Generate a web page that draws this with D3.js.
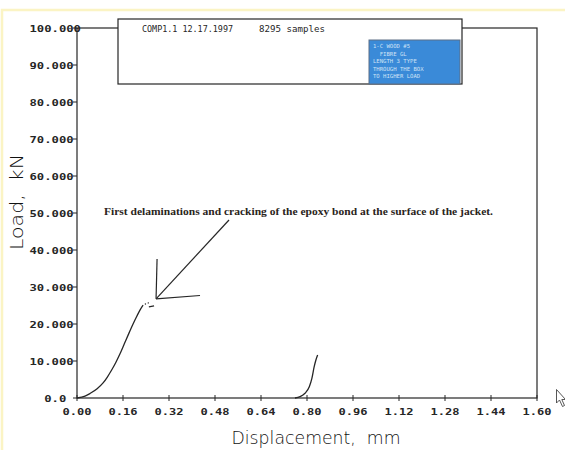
<!DOCTYPE html>
<html>
<head>
<meta charset="utf-8">
<script src="https://cdn.jsdelivr.net/npm/d3@7"></script>
<style>
  html, body { margin: 0; padding: 0; background: #fff; }
  svg { display: block; }
  text { white-space: pre; }
</style>
</head>
<body>
<svg id="chart" width="565" height="450"></svg>
<script>
// Load–displacement record, test COMP1.1
const xTicks = [0, 0.16, 0.32, 0.48, 0.64, 0.80, 0.96, 1.12, 1.28, 1.44, 1.60];
const xTickLabels = ["0.00", "0.16", "0.32", "0.48", "0.64", "0.80", "0.96", "1.12", "1.28", "1.44", "1.60"];
const yTicks = [0, 10, 20, 30, 40, 50, 60, 70, 80, 90, 100];
const yTickLabels = ["  0.0", "10.000", "20.000", "30.000", "40.000", "50.000", "60.000", "70.000", "80.000", "90.000", "100.000"];

// first loading branch: displacement (mm), load (kN)
const loadDisp1 = [0, 0.028, 0.045, 0.07, 0.09, 0.105, 0.12, 0.135, 0.15, 0.165, 0.18, 0.195, 0.208, 0.220, 0.230];
const loadVal1  = [0, 0.5, 1.2, 2.5, 4.0, 5.6, 7.5, 9.6, 12.0, 14.7, 17.4, 20.0, 22.1, 23.9, 25.1];
// scattered samples after the first cracking
const scatterDisp = [0.238, 0.248];
const scatterVal  = [25.4, 25.7];
const fragDisp = [0.250, 0.268];
const fragVal  = [24.6, 24.9];
// second branch after unloading
const loadDisp2 = [0.758, 0.776, 0.793, 0.808, 0.817, 0.825, 0.831, 0.837];
const loadVal2  = [0, 0.35, 1.27, 3.05, 5.32, 8.46, 10.27, 11.6];

const headerText = "COMP1.1 12.17.1997";
const samplesText = "8295 samples";
const legendLines = ["1-C WOOD #5", "  FIBRE GL", "LENGTH 3 TYPE", "THROUGH THE BOX", "TO HIGHER LOAD"];
const noteText = "First delaminations and cracking of the epoxy bond at the surface of the jacket.";

const ink = "#262626";
const svg = d3.select("#chart");

// faint yellow edge of the sheet
svg.append("path")
  .attr("d", "M2,450 L2,10 L565,10")
  .attr("fill", "none").attr("stroke", "#fbf4c4").attr("stroke-width", 2.5);

const x = d3.scaleLinear().domain([0, 1.6]).range([77, 537]);
const y = d3.scaleLinear().domain([0, 100]).range([398, 28]);

// plot frame
svg.append("rect")
  .attr("x", x(0)).attr("y", y(100))
  .attr("width", x(1.6) - x(0)).attr("height", y(0) - y(100))
  .attr("fill", "none").attr("stroke", ink).attr("stroke-width", 1.2);

const monoFont = "'DejaVu Sans Mono', monospace";

// x axis ticks and labels
const xg = svg.append("g");
xg.selectAll("line").data(xTicks).join("line")
  .attr("x1", d => x(d)).attr("x2", d => x(d))
  .attr("y1", y(0) - 3).attr("y2", y(0) + 3)
  .attr("stroke", ink).attr("stroke-width", 1);
xg.selectAll("text").data(xTicks).join("text")
  .attr("x", d => x(d)).attr("y", 415)
  .attr("text-anchor", "middle")
  .attr("font-family", monoFont).attr("font-weight", "bold").attr("font-size", 9.5)
  .attr("fill", ink)
  .attr("textLength", 29).attr("lengthAdjust", "spacingAndGlyphs")
  .text((d, i) => xTickLabels[i]);

// y axis ticks and labels
const yg = svg.append("g");
yg.selectAll("line").data(yTicks).join("line")
  .attr("x1", x(0) - 4).attr("x2", x(0))
  .attr("y1", d => y(d)).attr("y2", d => y(d))
  .attr("stroke", ink).attr("stroke-width", 1);
yg.selectAll("text").data(yTicks).join("text")
  .attr("x", 29.5).attr("y", d => y(d) + 3.5)
  .attr("font-family", monoFont).attr("font-weight", "bold").attr("font-size", 9.5)
  .attr("fill", ink)
  .attr("textLength", (d, i) => yTickLabels[i].length * 7.35)
  .attr("lengthAdjust", "spacingAndGlyphs")
  .text((d, i) => yTickLabels[i]);

// axis titles
svg.append("text")
  .attr("x", 316).attr("y", 444)
  .attr("text-anchor", "middle")
  .attr("font-family", "'DejaVu Sans', sans-serif").attr("font-weight", 300).attr("font-size", 17)
  .attr("fill", "#111")
  .attr("textLength", 169).attr("lengthAdjust", "spacingAndGlyphs")
  .text("Displacement,  mm");
svg.append("text")
  .attr("transform", "translate(23,202) rotate(-90)")
  .attr("text-anchor", "middle")
  .attr("font-family", "'DejaVu Sans', sans-serif").attr("font-weight", 300).attr("font-size", 17)
  .attr("fill", "#111")
  .attr("textLength", 96).attr("lengthAdjust", "spacingAndGlyphs")
  .text("Load,  kN");

// header box
svg.append("rect")
  .attr("x", 118).attr("y", 19).attr("width", 344).attr("height", 65)
  .attr("fill", "#fff").attr("stroke", ink).attr("stroke-width", 1.2);
svg.append("text")
  .attr("x", 142).attr("y", 32)
  .attr("font-family", monoFont).attr("font-size", 8.3).attr("fill", ink)
  .attr("textLength", 91).attr("lengthAdjust", "spacingAndGlyphs")
  .text(headerText);
svg.append("text")
  .attr("x", 259).attr("y", 32)
  .attr("font-family", monoFont).attr("font-size", 8.3).attr("fill", ink)
  .attr("textLength", 66).attr("lengthAdjust", "spacingAndGlyphs")
  .text(samplesText);

// blue channel legend
svg.append("rect")
  .attr("x", 369).attr("y", 40).attr("width", 91).attr("height", 44)
  .attr("fill", "#3a8ad8").attr("stroke", "#5c6f86").attr("stroke-width", 1);
svg.append("g").selectAll("text").data(legendLines).join("text")
  .attr("x", 373).attr("y", (d, i) => 48 + i * 7.6)
  .attr("font-family", monoFont).attr("font-size", 5.6)
  .attr("fill", "#cfe2f6")
  .text(d => d);

// data curves
const line = d3.line().x(d => x(d[0])).y(d => y(d[1])).curve(d3.curveMonotoneX);
const pairs = (xs, ys) => xs.map((v, i) => [v, ys[i]]);

svg.append("path")
  .datum(pairs(loadDisp1, loadVal1))
  .attr("d", line).attr("fill", "none").attr("stroke", ink).attr("stroke-width", 1.3);
svg.append("path")
  .datum(pairs(fragDisp, fragVal))
  .attr("d", line).attr("fill", "none").attr("stroke", ink).attr("stroke-width", 1.3);
svg.append("g").selectAll("circle").data(pairs(scatterDisp, scatterVal)).join("circle")
  .attr("cx", d => x(d[0])).attr("cy", d => y(d[1])).attr("r", 0.7).attr("fill", ink);
svg.append("path")
  .datum(pairs(loadDisp2, loadVal2))
  .attr("d", line).attr("fill", "none").attr("stroke", ink).attr("stroke-width", 1.3);

// annotation with hand-drawn arrow
svg.append("text")
  .attr("x", 104).attr("y", 215)
  .attr("font-family", "'Liberation Serif', serif").attr("font-weight", "bold").attr("font-size", 10.5)
  .attr("fill", "#2a2420")
  .attr("textLength", 389).attr("lengthAdjust", "spacingAndGlyphs")
  .text(noteText);
const tip = [0.275, 26.8];
const arrow = svg.append("g").attr("stroke", ink).attr("stroke-width", 1.2).attr("fill", "none");
arrow.append("line")
  .attr("x1", 229).attr("y1", 220).attr("x2", x(tip[0])).attr("y2", y(tip[1]));
arrow.append("line")
  .attr("x1", x(tip[0])).attr("y1", y(tip[1])).attr("x2", x(tip[0]) + 1).attr("y2", 259);
arrow.append("line")
  .attr("x1", x(tip[0])).attr("y1", y(tip[1])).attr("x2", 200).attr("y2", 295.5);

// mouse pointer left on the screen
svg.append("path")
  .attr("d", "M556.5,389.5 L556.5,403 L559.5,400 L562.5,406.5 L564.5,405.5 L561.8,399.5 L565.5,399.5 Z")
  .attr("fill", "#fff").attr("stroke", "#444").attr("stroke-width", 0.9);
</script>
</body>
</html>
